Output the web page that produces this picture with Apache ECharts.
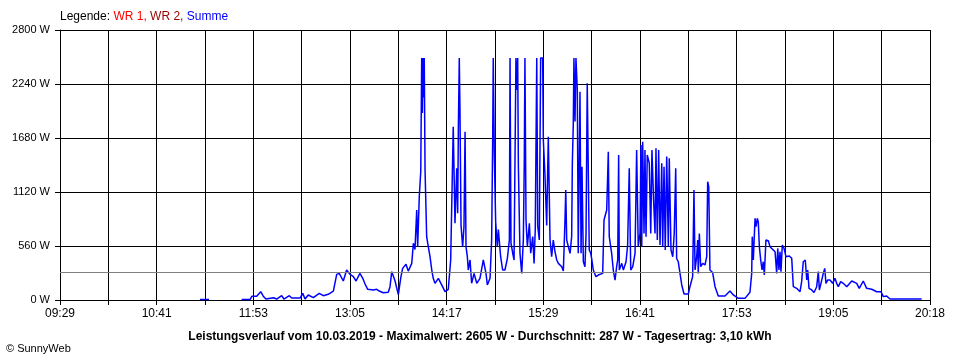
<!DOCTYPE html>
<html>
<head>
<meta charset="utf-8">
<script src="https://cdn.jsdelivr.net/npm/echarts@6/dist/echarts.min.js"></script>
<style>
html,body{margin:0;padding:0;background:#fff;}
#chart{width:960px;height:360px;}
</style>
</head>
<body>
<div id="chart"></div>
<script>
// x values: minutes after 09:29 (axis start)
const tickLabels = ['09:29','10:41','11:53','13:05','14:17','15:29','16:41','17:53','19:05','20:18'];
const yTicks = [0, 560, 1120, 1680, 2240, 2800];
const averageWatt = 287;

const blipTimes = [104.3, 111.0];
const blipWatts = [5, 5];

const mainTimes = [
135.3,141.5,143.0,146.5,149.5,151.4,153.4,158.9,161.4,165.1,166.8,170.8,172.6,178.8,180.8,182.5,184.9,188.7,193.1,196.1,
199.8,203.6,206.1,208.0,211.0,213.5,216.0,218.5,220.5,223.4,225.5,227.2,229.2,233.4,235.9,237.8,240.8,244.5,245.8,247.1,
249.5,252.0,253.8,255.2,257.7,259.4,262.0,263.2,264.4,265.7,266.4,267.6,268.7,269.4,269.9,270.4,270.9,271.3,271.9,273.1,
274.3,275.6,276.9,278.0,279.3,281.8,284.3,286.8,289.2,291.0,292.2,292.9,294.2,295.5,296.2,296.7,297.4,297.9,298.7,299.9,
300.9,301.7,302.4,303.4,304.1,305.4,306.6,308.4,310.4,312.8,315.3,317.3,318.3,320.3,321.5,322.3,322.7,323.5,324.5,325.7,
326.5,328.2,329.7,331.4,333.2,334.7,335.2,335.9,337.2,338.2,339.6,340.2,340.9,341.4,342.6,343.9,345.1,345.8,346.3,347.1,
348.1,349.6,350.6,352.1,353.1,354.0,355.1,355.8,357.0,358.0,358.8,359.5,360.0,361.2,362.5,363.7,365.0,366.2,367.4,368.7,
370.0,371.2,373.7,374.9,376.1,376.7,377.4,378.6,379.9,381.1,381.6,382.3,382.8,383.6,384.3,385.3,386.0,387.3,388.1,388.8,
389.8,391.0,391.8,392.7,393.5,394.2,395.3,396.0,397.2,399.2,400.9,402.2,404.2,405.2,407.2,408.4,409.1,410.9,412.1,413.4,
414.6,415.4,416.1,416.6,418.4,419.6,421.6,422.8,424.0,425.1,426.6,428.3,429.5,430.7,432.0,432.7,433.3,434.0,435.0,435.7,
436.5,437.4,438.9,440.0,440.9,442.1,443.2,443.9,444.9,445.9,446.9,448.2,448.9,449.9,450.8,451.9,453.1,453.8,455.1,456.4,
457.5,458.6,459.3,460.5,461.8,463.1,464.8,468.0,469.2,471.2,472.2,473.0,474.2,475.0,475.4,476.2,477.2,478.7,480.4,481.7,
482.4,483.2,484.1,486.1,487.9,490.3,495.3,499.0,501.5,505.2,510.2,513.9,515.2,515.6,516.4,517.7,518.4,519.4,520.1,520.9,
521.9,522.9,523.8,524.6,525.8,527.6,528.8,530.1,532.6,533.8,534.6,535.5,536.3,537.0,538.0,539.3,540.7,543.2,545.0,546.2,
548.7,551.2,552.4,553.6,555.1,556.2,556.9,557.9,559.9,561.6,563.6,564.8,565.6,566.8,568.5,569.6,570.5,571.8,573.5,575.5,
577.2,578.5,579.7,581.5,583.4,586.0,589.7,593.4,595.3,598.3,600.8,604.6,608.3,611.5,613.2,615.7,618.2,641.8
];
const mainWatts = [
5,5,40,40,86,40,10,24,10,45,10,45,20,20,69,10,52,24,69,45,
59,93,266,276,197,311,266,242,197,276,225,166,111,104,111,93,75,80,138,294,
200,55,230,328,370,300,380,588,523,933,550,1071,1331,2510,1940,2510,2100,2510,1348,657,
553,449,311,225,173,225,156,86,111,415,415,1797,795,1366,900,1763,2510,1970,774,553,
760,1746,553,449,311,415,173,276,173,225,415,276,156,225,622,1711,2510,1500,812,553,
730,449,311,311,430,622,2510,590,485,415,2510,2178,2510,1400,485,276,622,1418,2510,830,
553,795,485,657,380,740,2510,770,622,2510,2520,2510,1659,1300,774,1693,622,449,622,500,
415,380,345,300,812,1141,622,640,484,657,1418,1815,2510,1850,2510,2178,484,2160,484,1383,
397,345,680,2247,2265,520,484,430,311,242,259,276,276,830,933,1538,657,484,311,207,
345,415,1504,311,380,311,397,570,1366,311,345,484,1556,553,690,1607,553,1642,690,1556,
657,1504,1418,690,1556,1040,690,1573,622,1556,570,1418,553,1383,518,1487,553,1470,518,449,
690,1366,430,397,276,156,62,62,138,242,1141,311,449,622,276,690,345,380,363,449,
1227,1176,311,285,138,41,41,93,52,17,17,80,276,657,415,847,760,847,810,553,
415,311,397,259,622,615,553,535,501,276,535,311,501,294,570,535,449,457,432,138,
121,86,190,397,415,207,311,121,104,78,138,294,104,173,276,328,173,207,207,173,
225,173,138,190,173,138,197,173,121,197,121,111,86,86,35,41,10,10
];

const pairs = (t, w) => t.map((x, i) => [x, w[i]]);
const font = 'Liberation Sans, Arial, sans-serif';
const lineStyle = { color: '#0000ff', width: 1.5 };

const chart = echarts.init(document.getElementById('chart'), null, { renderer: 'canvas' });
chart.setOption({
  animation: false,
  backgroundColor: '#ffffff',
  textStyle: { fontFamily: font },
  title: [
    {
      left: 60, top: 11, padding: 0,
      text: '{a|Legende: }{b|WR 1, }{c|WR 2, }{d|Summe}',
      textStyle: {
        fontSize: 12, fontWeight: 'normal', fontFamily: font,
        rich: {
          a: { color: '#000000', fontSize: 12, fontFamily: font },
          b: { color: '#ff0000', fontSize: 12, fontFamily: font },
          c: { color: '#990000', fontSize: 12, fontFamily: font },
          d: { color: '#0000ff', fontSize: 12, fontFamily: font }
        }
      }
    },
    {
      left: 'center', top: 331, padding: 0,
      text: 'Leistungsverlauf vom 10.03.2019 - Maximalwert: 2605 W - Durchschnitt: 287 W - Tagesertrag: 3,10 kWh',
      textStyle: { fontSize: 12, fontWeight: 'bold', color: '#000', fontFamily: font }
    },
    {
      left: 6, top: 343, padding: 0,
      text: '© SunnyWeb',
      textStyle: { fontSize: 11, fontWeight: 'normal', color: '#000', fontFamily: font }
    }
  ],
  grid: { left: 60, right: 30, top: 30, bottom: 60, containLabel: false },
  xAxis: {
    type: 'value', min: 0, max: 648, interval: 36,
    axisLine: { show: true, lineStyle: { color: '#000', width: 1 } },
    axisTick: { show: true, length: 5, lineStyle: { color: '#000' } },
    splitLine: { show: true, lineStyle: { color: '#000', width: 1 } },
    axisLabel: {
      color: '#000', fontSize: 12, margin: 8, fontFamily: font,
      showMinLabel: true, showMaxLabel: true,
      formatter: v => (Math.round(v) % 72 === 0 ? tickLabels[Math.round(v) / 72] : '')
    }
  },
  yAxis: {
    type: 'value', min: yTicks[0], max: yTicks[yTicks.length - 1], interval: yTicks[1] - yTicks[0],
    axisLine: { show: true, lineStyle: { color: '#000', width: 1 } },
    axisTick: { show: true, length: 5, lineStyle: { color: '#000' } },
    splitLine: { show: true, lineStyle: { color: '#000', width: 1 } },
    axisLabel: { color: '#000', fontSize: 11, margin: 10, fontFamily: font, formatter: v => v + ' W' }
  },
  series: [
    {
      type: 'line', data: pairs(blipTimes, blipWatts), showSymbol: false, symbol: 'none',
      lineStyle: lineStyle, silent: true
    },
    {
      type: 'line', data: pairs(mainTimes, mainWatts), showSymbol: false, symbol: 'none',
      lineStyle: lineStyle, silent: true, z: 3,
      markLine: {
        silent: true, symbol: 'none', label: { show: false },
        lineStyle: { color: '#808080', type: 'solid', width: 1 },
        data: [{ yAxis: averageWatt }]
      }
    }
  ]
});
</script>
</body>
</html>
